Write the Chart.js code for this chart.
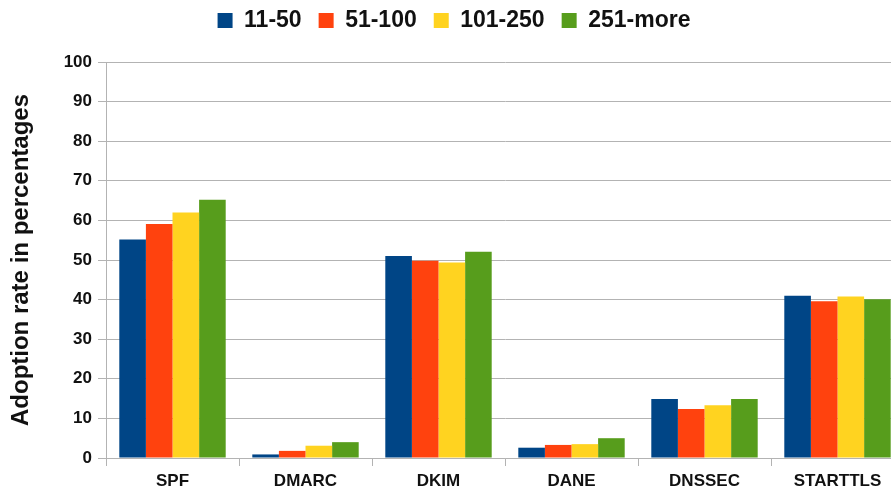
<!DOCTYPE html>
<html>
<head>
<meta charset="utf-8">
<script src="https://cdn.jsdelivr.net/npm/chart.js@4/dist/chart.umd.min.js"></script>
<style>
  html, body { margin: 0; padding: 0; background: #fff; overflow: hidden; }
  #wrap { width: 906px; height: 493px; position: relative; }
</style>
</head>
<body>
<div id="wrap"><canvas id="chart"></canvas></div>
<script>
const categories = ['SPF', 'DMARC', 'DKIM', 'DANE', 'DNSSEC', 'STARTTLS'];
const seriesNames = ['11-50', '51-100', '101-250', '251-more'];
const size11to50 = [55.2, 0.9, 51.0, 2.6, 14.9, 41.0];
const size51to100 = [59.1, 1.8, 49.8, 3.3, 12.4, 39.6];
const size101to250 = [62.0, 3.1, 49.4, 3.5, 13.3, 40.8];
const size251more = [65.2, 4.0, 52.1, 5.0, 14.9, 40.1];
const yTicks = [0, 10, 20, 30, 40, 50, 60, 70, 80, 90, 100];

const colors = ['#004586', '#ff420e', '#ffd320', '#579d1c'];
const values = [size11to50, size51to100, size101to250, size251more];

const gridColor = '#b3b3b3';
const font = 'Liberation Sans, Arial, sans-serif';

// fix legend height so the plot starts where it does in the original
const legendHeight = {
    id: 'legendHeight',
    beforeInit(chart) {
        const fit = chart.legend.fit;
        chart.legend.fit = function () {
            fit.call(this);
            this.height = 70;
        };
    }
};

new Chart(document.getElementById('chart'), {
    type: 'bar',
    data: {
        labels: categories,
        datasets: seriesNames.map((name, i) => ({
            label: name,
            data: values[i],
            backgroundColor: colors[i],
            borderWidth: 0,
            categoryPercentage: 0.8,
            barPercentage: 1.0
        }))
    },
    options: {
        responsive: true,
        maintainAspectRatio: false,
        animation: false,
        layout: { padding: { left: 4, right: 2, top: -8, bottom: 2 } },
        scales: {
            x: {
                afterFit: axis => { axis.height = 33; },
                grid: {
                    drawOnChartArea: false,
                    color: gridColor,
                    tickLength: 8
                },
                border: { color: gridColor },
                ticks: {
                    color: '#111',
                    font: { family: font, size: 17, weight: 'bold' },
                    padding: 5
                }
            },
            y: {
                min: 0,
                max: 100,
                afterBuildTicks: axis => { axis.ticks = yTicks.map(v => ({ value: v })); },
                afterFit: axis => { axis.width = 102; },
                grid: { color: gridColor, tickLength: 8 },
                border: { color: gridColor },
                ticks: {
                    color: '#111',
                    font: { family: font, size: 17, weight: 'bold' },
                    padding: 6
                },
                title: {
                    display: true,
                    text: 'Adoption rate in percentages',
                    color: '#111',
                    font: { family: font, size: 24, weight: 'bold' },
                    padding: { top: 3, bottom: 4 }
                }
            }
        },
        plugins: {
            legend: {
                position: 'top',
                labels: {
                    color: '#111',
                    font: { family: font, size: 23, weight: 'bold' },
                    boxWidth: 15,
                    boxHeight: 15,
                    padding: 17
                }
            },
            tooltip: { enabled: false }
        }
    },
    plugins: [legendHeight]
});
</script>
</body>
</html>
